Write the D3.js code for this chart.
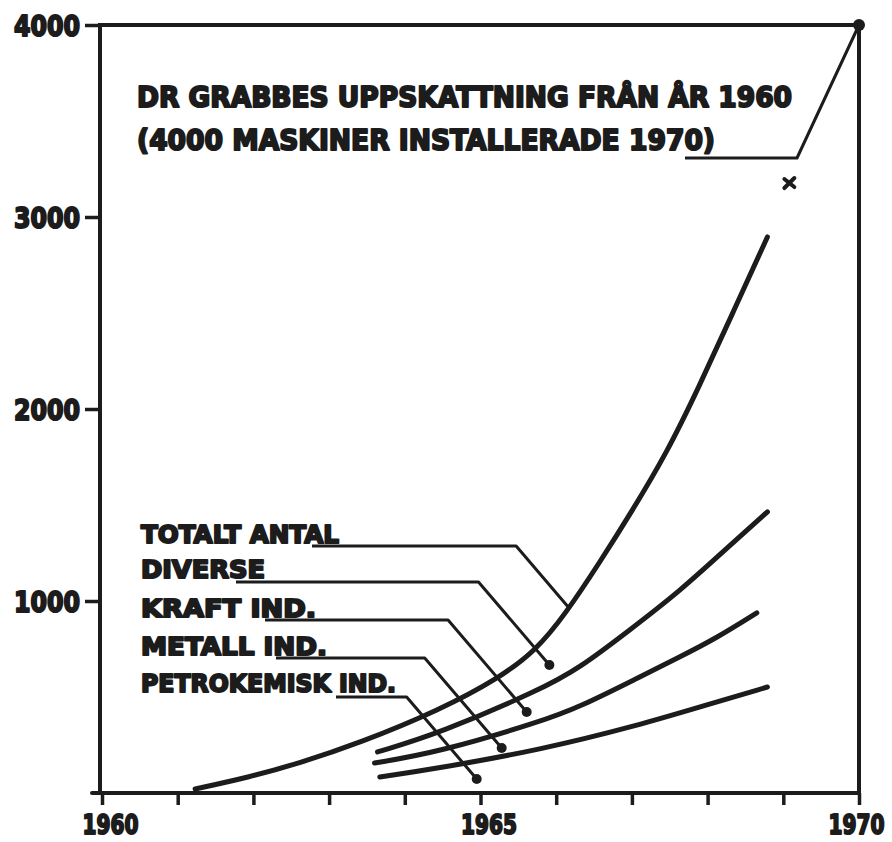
<!DOCTYPE html>
<html>
<head>
<meta charset="utf-8">
<script src="https://cdn.jsdelivr.net/npm/d3@7"></script>
<style>
body{margin:0;background:#fff;}
svg text{font-family:"DejaVu Sans",sans-serif;font-weight:bold;fill:#1c1c1c;stroke:#1c1c1c;stroke-width:2.1;stroke-linejoin:round;}
</style>
</head>
<body>
<svg id="chart" width="892" height="842"></svg>
<script>
// axis values
var years = d3.range(1960, 1971);
var xLabelled = [1960, 1965, 1970];
var yTicks = [1000, 2000, 3000, 4000];

// totalt antal maskiner
var totalYears  = [1961.23, 1961.95, 1962.61, 1963.40, 1964.46, 1965.25, 1965.74, 1966.13, 1966.57, 1967.01, 1967.46, 1967.88, 1968.32, 1968.79];
var totalValues = [21, 83, 156, 260, 432, 599, 745, 937, 1198, 1474, 1771, 2110, 2490, 2896];

// kumulativa kurvor (petrokemisk + metall + kraft)
var kraftYears  = [1963.64, 1964.46, 1965.78, 1966.31, 1966.97, 1967.63, 1968.28, 1968.79];
var kraftValues = [214, 312, 536, 651, 849, 1050, 1285, 1464];
// petrokemisk + metall
var metallYears  = [1963.60, 1964.46, 1965.78, 1966.31, 1967.10, 1967.63, 1968.11, 1968.65];
var metallValues = [156, 214, 370, 448, 604, 708, 805, 938];
// petrokemisk
var petroYears  = [1963.67, 1964.46, 1965.78, 1967.10, 1967.98, 1968.79];
var petroValues = [83, 130, 224, 354, 458, 552];

// etiketter och var pilarna pekar
var labelNames   = ['TOTALT ANTAL', 'DIVERSE', 'KRAFT IND.', 'METALL IND.', 'PETROKEMISK IND.'];
var anchorYears  = [1966.17, 1965.91, 1965.61, 1965.28, 1964.95];
var anchorValues = [964, 667, 422, 234, 73];

// Dr Grabbes uppskattning
var titleLines = ['DR GRABBES UPPSKATTNING FRÅN ÅR 1960', '(4000 MASKINER INSTALLERADE 1970)'];
var grabbe = [1970, 4000];
var crossMark = [1969.08, 3177];

var ink = '#1c1c1c';
var svg = d3.select('#chart');

var x = d3.scaleLinear().domain([1960, 1970]).range([102, 859]);
var y = d3.scaleLinear().domain([0, 4000]).range([793, 25]);

// frame
svg.append('path')
    .attr('d', `M${x(1960) - 2},${y(0)} V${y(4000)} H${x(1970)} V${y(0)}`)
    .attr('fill', 'none').attr('stroke', ink).attr('stroke-width', 4);
svg.append('line')
    .attr('x1', 92).attr('x2', x(1970)).attr('y1', y(0)).attr('y2', y(0))
    .attr('stroke', ink).attr('stroke-width', 4).attr('stroke-linecap', 'round');

var gy = svg.append('g')
    .attr('transform', `translate(${x(1960) - 2},0)`)
    .call(d3.axisLeft(y).tickValues(yTicks).tickSize(15).tickPadding(5).tickFormat(d3.format('d')));
gy.select('.domain').remove();
gy.selectAll('line').attr('stroke', ink).attr('stroke-width', 3.5);
gy.selectAll('text').attr('font-size', 29).attr('dy', '0.36em')
    .attr('textLength', 66).attr('lengthAdjust', 'spacingAndGlyphs');

var gx = svg.append('g')
    .attr('transform', `translate(0,${y(0)})`)
    .call(d3.axisBottom(x).tickValues(years).tickSize(12).tickPadding(10)
        .tickFormat(d => xLabelled.indexOf(d) >= 0 ? d : ''));
gx.select('.domain').remove();
gx.selectAll('line').attr('stroke', ink).attr('stroke-width', 3.5);
gx.selectAll('text').attr('font-size', 27).attr('dy', '0.72em')
    .attr('dx', d => d === 1970 ? 25 : 8)
    .attr('text-anchor', d => d === 1970 ? 'end' : 'middle')
    .filter(d => xLabelled.indexOf(d) >= 0)
    .attr('textLength', 56).attr('lengthAdjust', 'spacingAndGlyphs');

// curves
var line = d3.line().x(d => x(d[0])).y(d => y(d[1])).curve(d3.curveBasis);
var series = [
    [totalYears, totalValues],
    [kraftYears, kraftValues],
    [metallYears, metallValues],
    [petroYears, petroValues]
];
svg.append('g').selectAll('path').data(series).enter().append('path')
    .attr('d', s => line(d3.zip(s[0], s[1])))
    .attr('fill', 'none').attr('stroke', ink).attr('stroke-width', 5)
    .attr('stroke-linecap', 'round');

// labels with leader lines
var labelLayout = [
    {base: 543, len: 198, ul: 312, ulY: 546, dot: false},
    {base: 578, len: 124, ul: 236, ulY: 582, dot: true},
    {base: 617, len: 175, ul: 265, ulY: 620, dot: true},
    {base: 655, len: 186, ul: 276, ulY: 658, dot: true},
    {base: 692, len: 255, ul: 336, ulY: 697, dot: true}
];
var labels = svg.append('g');
labelNames.forEach(function (name, i) {
    var lay = labelLayout[i];
    labels.append('text').text(name)
        .attr('x', 141).attr('y', lay.base).attr('font-size', 25)
        .attr('textLength', lay.len).attr('lengthAdjust', 'spacingAndGlyphs');
    var ax = x(anchorYears[i]), ay = y(anchorValues[i]);
    var ex = ax - (ay - lay.ulY) / 1.17;
    labels.append('path')
        .attr('d', `M${lay.ul},${lay.ulY} H${ex} L${ax},${ay}`)
        .attr('fill', 'none').attr('stroke', ink).attr('stroke-width', 3)
        .attr('stroke-linejoin', 'round');
    if (lay.dot) {
        labels.append('circle').attr('cx', ax).attr('cy', ay).attr('r', 5).attr('fill', ink);
    }
});

// title and its leader to 4000 in 1970
svg.append('text').text(titleLines[0])
    .attr('x', 137).attr('y', 107).attr('font-size', 28)
    .attr('textLength', 655).attr('lengthAdjust', 'spacingAndGlyphs');
svg.append('text').text(titleLines[1])
    .attr('x', 137).attr('y', 150).attr('font-size', 28)
    .attr('textLength', 578).attr('lengthAdjust', 'spacingAndGlyphs');
svg.append('path')
    .attr('d', `M685,158 H797 L${x(grabbe[0])},${y(grabbe[1])}`)
    .attr('fill', 'none').attr('stroke', ink).attr('stroke-width', 3)
    .attr('stroke-linejoin', 'round');
svg.append('circle').attr('cx', x(grabbe[0])).attr('cy', y(grabbe[1])).attr('r', 6).attr('fill', ink);

// cross mark
var cx = x(crossMark[0]), cy = y(crossMark[1]);
svg.append('path')
    .attr('d', `M${cx - 5},${cy - 4} L${cx + 5},${cy + 4} M${cx + 5},${cy - 5} L${cx - 5},${cy + 5}`)
    .attr('stroke', ink).attr('stroke-width', 4).attr('stroke-linecap', 'round');
</script>
</body>
</html>
